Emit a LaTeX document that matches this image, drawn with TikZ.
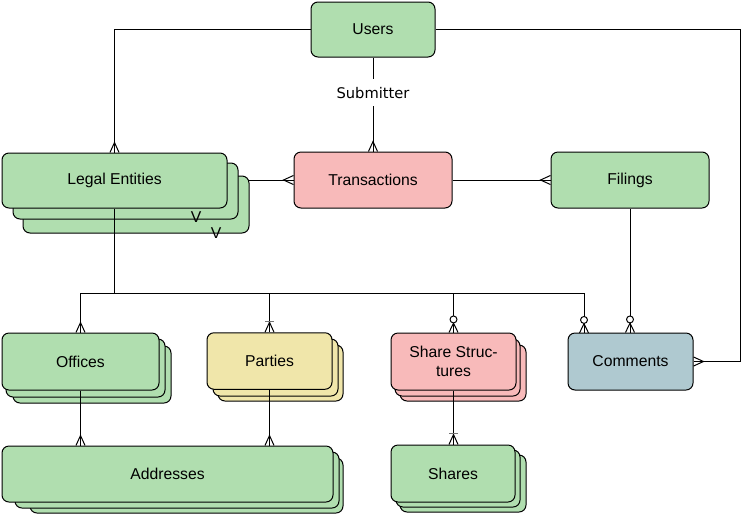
\documentclass[tikz,border=0pt]{standalone}
\usepackage{fontspec}
\setmainfont{Liberation Sans}
\newfontfamily\subfont{DejaVu Sans}
\definecolor{egreen}{RGB}{176,222,175}
\definecolor{epink}{RGB}{248,186,186}
\definecolor{eyellow}{RGB}{240,230,170}
\definecolor{eblue}{RGB}{175,201,208}
\pgfdeclarearrow{
  name=crowfoot,
  setup code={
    \pgfarrowssettipend{0pt}
    \pgfarrowssetlineend{0pt}
    \pgfarrowssetbackend{-7.5pt}
    \pgfarrowsupperhullpoint{0pt}{3.4pt}
    \pgfarrowsupperhullpoint{-7.5pt}{0pt}
  },
  drawing code={
    \pgfsetdash{}{0pt}
    \pgfpathmoveto{\pgfpoint{0pt}{3.4pt}}
    \pgfpathlineto{\pgfpoint{-7.5pt}{0pt}}
    \pgfpathlineto{\pgfpoint{0pt}{-3.4pt}}
    \pgfusepathqstroke
  },
}
\pgfdeclarearrow{
  name=zcrowfoot,
  setup code={
    \pgfarrowssettipend{0pt}
    \pgfarrowssetlineend{0pt}
    \pgfarrowssetbackend{-12.6pt}
    \pgfarrowsupperhullpoint{0pt}{3.4pt}
    \pgfarrowsupperhullpoint{-12.6pt}{0pt}
  },
  drawing code={
    \pgfsetdash{}{0pt}
    \pgfpathmoveto{\pgfpoint{0pt}{3.4pt}}
    \pgfpathlineto{\pgfpoint{-7pt}{0pt}}
    \pgfpathlineto{\pgfpoint{0pt}{-3.4pt}}
    \pgfusepathqstroke
    \pgfpathcircle{\pgfpoint{-9.8pt}{0pt}}{2.6pt}
    \pgfsetfillcolor{white}
    \pgfusepathqfillstroke
  },
}
\pgfdeclarearrow{
  name=ocrowfoot,
  setup code={
    \pgfarrowssettipend{0pt}
    \pgfarrowssetlineend{0pt}
    \pgfarrowssetbackend{-8.5pt}
    \pgfarrowsupperhullpoint{0pt}{3.4pt}
    \pgfarrowsupperhullpoint{-8.5pt}{3.4pt}
  },
  drawing code={
    \pgfsetdash{}{0pt}
    \pgfpathmoveto{\pgfpoint{0pt}{3.4pt}}
    \pgfpathlineto{\pgfpoint{-7.5pt}{0pt}}
    \pgfpathlineto{\pgfpoint{0pt}{-3.4pt}}
    \pgfusepathqstroke
    \pgfsetstrokecolor{black!55}
    \pgfpathmoveto{\pgfpoint{-8.3pt}{3.4pt}}
    \pgfpathlineto{\pgfpoint{-8.3pt}{-3.4pt}}
    \pgfusepathqstroke
  },
}
\tikzset{
  ebox/.style={draw=black, line width=0.75pt, rounded corners=5.25pt, inner sep=2pt,
    font=\fontsize{11.8}{14}\selectfont, align=center},
  backbox/.style={draw=black, line width=0.75pt, rounded corners=5.25pt},
  conn/.style={draw=black, line width=0.75pt},
}
\newcommand\entbox[7]{\node[ebox, fill=#6, minimum width=#4*0.75pt, minimum height=#5*0.75pt] (#1) at (#2,#3) {#7};}
\begin{document}
\begin{tikzpicture}[x=0.75pt, y=-0.75pt]
\useasboundingbox (0,0) rectangle (741,515);
% back layers of stacked entities
\draw[backbox, fill=egreen] (23,176) rectangle (249,233);
\draw[backbox, fill=egreen] (13,163) rectangle (238,219);
\draw[backbox, fill=egreen] (13,346) rectangle (171,403);
\draw[backbox, fill=egreen] (6,339) rectangle (165,397);
\draw[backbox, fill=eyellow] (218,345) rectangle (343,401);
\draw[backbox, fill=eyellow] (213,339) rectangle (338,396);
\draw[backbox, fill=epink] (400,345) rectangle (526,401);
\draw[backbox, fill=epink] (395,339) rectangle (520,396);
\draw[backbox, fill=egreen] (30,458) rectangle (343,513);
\draw[backbox, fill=egreen] (15,452) rectangle (339,508);
\draw[backbox, fill=egreen] (400,455) rectangle (526,512);
\draw[backbox, fill=egreen] (396,450) rectangle (520,507);
% front boxes
\entbox{users}{373}{29.5}{124}{55}{egreen}{Users}
\entbox{legal}{114.5}{180.5}{225}{55}{egreen}{Legal Entities}
\entbox{trans}{373}{180}{158}{56}{epink}{Transactions}
\entbox{filings}{630}{180}{158}{56}{egreen}{Filings}
\entbox{offices}{80.5}{361.5}{157}{57}{egreen}{Offices}
\entbox{parties}{269.5}{361}{125}{56.5}{eyellow}{Parties}
\entbox{sharestr}{453.5}{361.5}{125}{57}{epink}{Share Struc-\\tures}
\entbox{comments}{630.5}{361.5}{125}{57}{eblue}{Comments}
\entbox{addresses}{167.5}{474}{331}{56}{egreen}{Addresses}
\entbox{shares}{453}{473.5}{124}{57}{egreen}{Shares}
\node[font=\fontsize{11.8}{14}\selectfont, inner sep=0pt] (v1) at (196,217) {V};
\node[font=\fontsize{11.8}{14}\selectfont, inner sep=0pt] (v2) at (216,233) {V};
% connectors
\coordinate (ur) at (740,29.5);
\coordinate (legalR) at (249,180);
\coordinate (bus) at (114.5,293.5);
\coordinate (cmtop) at (584,333);
\draw[conn, -crowfoot] (users.west) -| (legal.north);
\draw[conn, -crowfoot] (users.east) -- (ur) |- (comments.east);
\draw[conn, -crowfoot] (users.south) -- node[pos=0.375, fill=white, inner xsep=1pt, inner ysep=6pt, font=\subfont\fontsize{11}{13}\selectfont] (sublbl) {Submitter} (trans.north);
\draw[conn, -crowfoot] (legalR) -- (trans.west);
\draw[conn, -crowfoot] (trans.east) -- (filings.west);
\draw[conn, -zcrowfoot] (filings.south) -- (filings.south |- comments.north);
\draw[conn] (legal.south) -- (bus);
\draw[conn, -crowfoot] (bus) -| (offices.north);
\draw[conn, -ocrowfoot] (bus) -| (parties.north);
\draw[conn, -zcrowfoot] (bus) -| (sharestr.north);
\draw[conn, -zcrowfoot] (bus) -| (cmtop);
\draw[conn, -crowfoot] (offices.south) -- (offices.south |- addresses.north);
\draw[conn, -crowfoot] (parties.south) -- (parties.south |- addresses.north);
\draw[conn, -ocrowfoot] (sharestr.south) -- (sharestr.south |- shares.north);
\end{tikzpicture}
\end{document}
